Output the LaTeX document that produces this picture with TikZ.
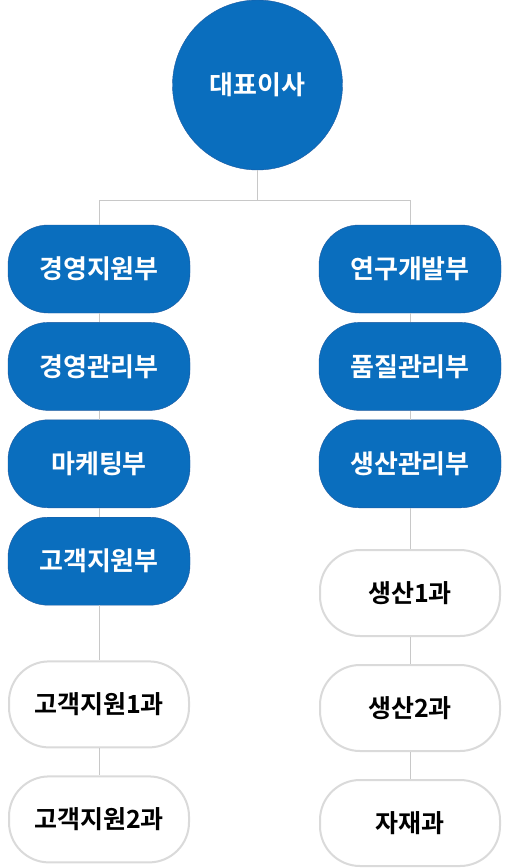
\documentclass[tikz,border=0pt]{standalone}
\usepackage{fontspec}
\setmainfont{Noto Sans CJK KR}[BoldFont={Noto Sans CJK KR Bold}]
\usetikzlibrary{positioning}
\definecolor{orgblue}{RGB}{10,110,190}
\definecolor{orgedge}{RGB}{30,90,160}
\definecolor{orgline}{RGB}{200,200,200}
\definecolor{orgglow}{RGB}{218,218,218}
\tikzset{
    %Define style for the top circle
    chief/.style={
           circle,
           fill=orgblue,
           draw=orgedge, thin,
           minimum size=170pt,
           text=white,
           font=\bfseries\fontsize{26}{30}\selectfont},
    %Define style for blue boxes
    dept/.style={
           rectangle,
           rounded corners=40pt,
           fill=orgblue,
           draw=orgedge, thin,
           minimum width=182pt,
           minimum height=88pt,
           text=white,
           font=\bfseries\fontsize{26}{30}\selectfont},
    %Define style for white boxes
    team/.style={
           rectangle,
           rounded corners=40pt,
           fill=white,
           draw=orgglow, line width=2pt,
           minimum width=180pt,
           minimum height=86pt,
           text=black,
           font=\bfseries\fontsize{25}{30}\selectfont},
    % Define line style
    link/.style={
           draw=orgline,
           line width=0.8pt}
}

\begin{document}
\begin{tikzpicture}[x=1pt, y=-1pt, node distance=9pt]
		\useasboundingbox (0,0) rectangle (508,868);
		\node[chief] (ceo) at (257.5,85) {대표이사};
		\node[dept] (support) at (99,269) {경영지원부};
		\node[dept, below=of support] (manage) {경영관리부};
		\node[dept, below=of manage] (marketing) {마케팅부};
		\node[dept, below=of marketing] (customer) {고객지원부};
		\node[team, below=of customer, yshift=-46pt] (cust1) {고객지원1과};
		\node[team, below=of cust1, yshift=-18pt] (cust2) {고객지원2과};
		\node[dept] (research) at (410,269) {연구개발부};
		\node[dept, below=of research] (quality) {품질관리부};
		\node[dept, below=of quality] (production) {생산관리부};
		\node[team, below=of production, yshift=-32pt] (prod1) {생산1과};
		\node[team, below=of prod1, yshift=-18pt] (prod2) {생산2과};
		\node[team, below=of prod2, yshift=-18pt] (material) {자재과};
		\draw[link] (ceo.south) -- ++(0,30) -| (support.north);
		\draw[link] (ceo.south) -- ++(0,30) -| (research.north);
		\draw[link] (support) -- (manage);
		\draw[link] (manage) -- (marketing);
		\draw[link] (marketing) -- (customer);
		\draw[link] (customer) -- (cust1);
		\draw[link] (cust1) -- (cust2);
		\draw[link] (research) -- (quality);
		\draw[link] (quality) -- (production);
		\draw[link] (production) -- (prod1);
		\draw[link] (prod1) -- (prod2);
		\draw[link] (prod2) -- (material);
	\end{tikzpicture}
\end{document}
